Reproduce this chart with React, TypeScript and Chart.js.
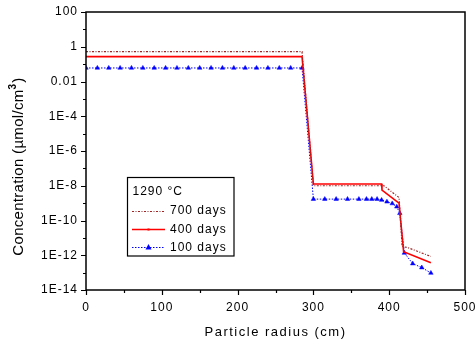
import { useEffect, useRef } from 'react';
import { Chart, registerables } from 'chart.js';

Chart.register(...registerables);

const FONT = '"Liberation Sans", Arial, sans-serif';

// ---- data ----
const radius700 = [0, 285, 300, 393, 413, 417, 425, 455];
const conc700 = [0.52, 0.52, 1.0e-8, 1.0e-8, 2.1e-9, 3.2e-12, 2.7e-12, 8.5e-13];

const radius400 = [0, 285, 300, 390, 390.5, 413, 419, 455];
const conc400 = [0.27, 0.27, 1.25e-8, 1.25e-8, 5.6e-9, 1.0e-9, 1.6e-12, 3.7e-13];

const radius100 = [
  0, 15, 30, 45, 60, 75, 90, 105, 120, 135, 150, 165, 180, 195, 210, 225, 240, 255, 270, 285,
  300, 315, 330, 345, 360, 370, 377, 384, 390, 397, 404, 410, 414, 420, 431, 443, 455,
];
const conc100 = [
  0.06, 0.06, 0.06, 0.06, 0.06, 0.06, 0.06, 0.06, 0.06, 0.06, 0.06, 0.06, 0.06, 0.06, 0.06,
  0.06, 0.06, 0.06, 0.06, 0.06,
  1.7e-9, 1.7e-9, 1.7e-9, 1.7e-9, 1.7e-9, 1.7e-9, 1.7e-9, 1.7e-9, 1.5e-9, 1.2e-9, 9.5e-10,
  6.2e-10, 2.6e-10, 1.35e-12, 3.3e-13, 1.95e-13, 9.5e-14,
];

const seriesLabels = ['700 days', '400 days', '100 days'];
const legendTitle = '1290 °C';

const xTickValues = [0, 100, 200, 300, 400, 500];
const xMinorTicks = [50, 150, 250, 350, 450];
const yTickValues = [1e2, 1, 1e-2, 1e-4, 1e-6, 1e-8, 1e-10, 1e-12, 1e-14];
const yTickLabels = ['100', '1', '0.01', '1E-4', '1E-6', '1E-8', '1E-10', '1E-12', '1E-14'];
const yMinorTicks = [1e1, 1e-1, 1e-3, 1e-5, 1e-7, 1e-9, 1e-11, 1e-13];

const xTitle = 'Particle radius (cm)';
const yTitleMain = 'Concentration (µmol/cm';
const yTitleSup = '3';
const yTitleEnd = ')';

const COLOR700 = '#a02424';
const COLOR400 = '#ff0000';
const COLOR100 = '#0000ff';
const DASH700 = [2, 1.5, 1, 1.5];
const DASH100 = [1.5, 1.5];

const toXY = (xs: number[], ys: number[]) => xs.map((x, i) => ({ x, y: ys[i] }));

const decorPlugin = {
  id: 'decor',
  beforeDraw(chart: any) {
    (chart.ctx as any).letterSpacing = '1px';
  },
  afterDraw(chart: any) {
    const { ctx, chartArea: a, scales } = chart;
    const xs = scales.x;
    const ys = scales.y;
    ctx.save();
    (ctx as any).letterSpacing = '0px';
    // frame
    ctx.strokeStyle = '#000';
    ctx.lineWidth = 1.5;
    ctx.strokeRect(a.left, a.top, a.right - a.left, a.bottom - a.top);
    // tick marks (outward)
    ctx.lineWidth = 1.2;
    ctx.beginPath();
    xTickValues.forEach((v) => {
      const px = Math.round(xs.getPixelForValue(v)) + 0.5;
      ctx.moveTo(px, a.bottom);
      ctx.lineTo(px, a.bottom + 5);
    });
    xMinorTicks.forEach((v) => {
      const px = Math.round(xs.getPixelForValue(v)) + 0.5;
      ctx.moveTo(px, a.bottom);
      ctx.lineTo(px, a.bottom + 3);
    });
    yTickValues.forEach((v) => {
      const py = Math.round(ys.getPixelForValue(v)) + 0.5;
      ctx.moveTo(a.left, py);
      ctx.lineTo(a.left - 5, py);
    });
    yMinorTicks.forEach((v) => {
      const py = Math.round(ys.getPixelForValue(v)) + 0.5;
      ctx.moveTo(a.left, py);
      ctx.lineTo(a.left - 3, py);
    });
    ctx.stroke();

    // x title
    ctx.fillStyle = '#000';
    ctx.font = `13px ${FONT}`;
    (ctx as any).letterSpacing = '1.5px';
    ctx.textAlign = 'center';
    ctx.textBaseline = 'middle';
    ctx.fillText(xTitle, (a.left + a.right) / 2, 332);

    // y title (rotated, with superscript)
    (ctx as any).letterSpacing = '0.3px';
    ctx.save();
    ctx.translate(19, 167);
    ctx.rotate(-Math.PI / 2);
    ctx.font = `15px ${FONT}`;
    const w1 = ctx.measureText(yTitleMain).width;
    const w3 = ctx.measureText(yTitleEnd).width;
    ctx.font = `bold 10px ${FONT}`;
    const w2 = ctx.measureText(yTitleSup).width;
    let sx = -(w1 + w2 + w3) / 2;
    ctx.textAlign = 'left';
    ctx.textBaseline = 'middle';
    ctx.font = `15px ${FONT}`;
    ctx.fillText(yTitleMain, sx, 0);
    sx += w1;
    ctx.font = `bold 10px ${FONT}`;
    ctx.fillText(yTitleSup, sx, -6);
    sx += w2 + 1;
    ctx.font = `15px ${FONT}`;
    ctx.fillText(yTitleEnd, sx, 0);
    ctx.restore();

    // legend box
    const bx = 127.5, by = 177.5, bw = 106.5, bh = 78.5;
    ctx.fillStyle = '#fff';
    ctx.fillRect(bx, by, bw, bh);
    ctx.strokeStyle = '#000';
    ctx.lineWidth = 1.2;
    ctx.strokeRect(bx, by, bw, bh);
    ctx.fillStyle = '#000';
    ctx.font = `12px ${FONT}`;
    (ctx as any).letterSpacing = '1px';
    ctx.textAlign = 'left';
    ctx.textBaseline = 'middle';
    ctx.fillText(legendTitle, 132.5, 192);
    const rows = [210.7, 229.3, 247.3];
    const colors = [COLOR700, COLOR400, COLOR100];
    const dashes = [DASH700, [], DASH100];
    const widths = [1.2, 1.5, 1];
    rows.forEach((ry, i) => {
      ctx.save();
      ctx.strokeStyle = colors[i];
      ctx.lineWidth = widths[i];
      ctx.setLineDash(dashes[i]);
      ctx.beginPath();
      ctx.moveTo(132, Math.round(ry) + 0.5);
      ctx.lineTo(165, Math.round(ry) + 0.5);
      ctx.stroke();
      ctx.restore();
      if (i === 2) {
        ctx.fillStyle = COLOR100;
        const cx = 148.5, cy = Math.round(ry) + 0.5;
        ctx.beginPath();
        ctx.moveTo(cx, cy - 3.5);
        ctx.lineTo(cx + 3, cy + 2);
        ctx.lineTo(cx - 3, cy + 2);
        ctx.closePath();
        ctx.fill();
      }
      if (i === 1) {
        ctx.fillStyle = COLOR400;
        ctx.fillRect(147.5, Math.round(ry) - 0.5, 2, 2);
      }
      ctx.fillStyle = '#000';
      ctx.fillText(seriesLabels[i], 170, ry);
    });
    ctx.restore();
  },
};

export default function App() {
  const ref = useRef<HTMLCanvasElement | null>(null);
  useEffect(() => {
    document.body.style.margin = '0';
    const canvas = ref.current;
    if (!canvas) return;
    const chart = new Chart(canvas, {
      type: 'line',
      data: {
        datasets: [
          {
            label: seriesLabels[0],
            data: toXY(radius700, conc700),
            borderColor: COLOR700,
            borderWidth: 1.2,
            borderDash: DASH700,
            pointRadius: 0,
            tension: 0,
          },
          {
            label: seriesLabels[1],
            data: toXY(radius400, conc400),
            borderColor: COLOR400,
            borderWidth: 1.6,
            pointRadius: 0,
            tension: 0,
          },
          {
            label: seriesLabels[2],
            data: toXY(radius100, conc100),
            borderColor: COLOR100,
            backgroundColor: COLOR100,
            borderWidth: 1,
            borderDash: DASH100,
            pointStyle: 'triangle',
            pointRadius: 2.6,
            pointBorderWidth: 0.5,
            pointBorderColor: COLOR100,
            pointBackgroundColor: COLOR100,
            tension: 0,
          },
        ],
      },
      options: {
        animation: false,
        responsive: false,
        events: [],
        layout: { padding: { left: 0, right: 11, top: 12, bottom: 0 } },
        plugins: { legend: { display: false }, tooltip: { enabled: false } },
        scales: {
          x: {
            type: 'linear',
            min: 0,
            max: 500,
            grid: { display: false, drawTicks: false },
            border: { display: false },
            afterBuildTicks: (scale: any) => {
              scale.ticks = xTickValues.map((v) => ({ value: v }));
            },
            afterFit: (scale: any) => {
              scale.height = 55;
              scale.paddingLeft = 0;
              scale.paddingRight = 0;
            },
            ticks: {
              padding: 10,
              color: '#000',
              font: { family: FONT, size: 12 },
              maxRotation: 0,
              callback: (v: any) => String(v),
            },
          },
          y: {
            type: 'logarithmic',
            min: 1e-14,
            max: 100,
            grid: { display: false, drawTicks: false },
            border: { display: false },
            afterBuildTicks: (scale: any) => {
              scale.ticks = yTickValues.map((v) => ({ value: v }));
            },
            afterFit: (scale: any) => {
              scale.width = 86;
              scale.paddingTop = 0;
              scale.paddingBottom = 0;
            },
            ticks: {
              padding: 8,
              color: '#000',
              font: { family: FONT, size: 12 },
              callback: (v: any) => {
                const i = yTickValues.findIndex((t) => Math.abs(Math.log10(t) - Math.log10(v)) < 1e-6);
                return i >= 0 ? yTickLabels[i] : '';
              },
            },
          },
        },
      },
      plugins: [decorPlugin],
    });
    return () => chart.destroy();
  }, []);
  return (
    <div style={{ width: 476, height: 345 }}>
      <canvas ref={ref} width={476} height={345} />
    </div>
  );
}
